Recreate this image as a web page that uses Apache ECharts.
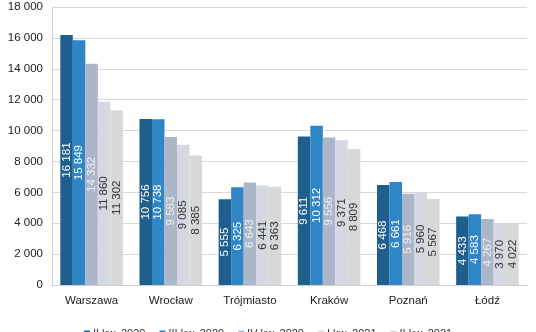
<!DOCTYPE html>
<html><head><meta charset="utf-8">
<script src="https://cdn.jsdelivr.net/npm/echarts@6/dist/echarts.min.js"></script>
<style>html,body{margin:0;padding:0;background:#fff}#c{width:536px;height:332px}</style>
</head><body><div id="c"></div>
<script>
const categories = ['Warszawa','Wrocław','Trójmiasto','Kraków','Poznań','Łódź'];
const seriesNames = ['II kw. 2020','III kw. 2020','IV kw. 2020','I kw. 2021','II kw. 2021'];
const q2_2020 = [16181, 10756, 5555, 9611, 6468, 4433];
const q3_2020 = [15849, 10738, 6325, 10312, 6661, 4583];
const q4_2020 = [14332, 9583, 6643, 9556, 5916, 4267];
const q1_2021 = [11860, 9085, 6441, 9371, 5960, 3970];
const q2_2021 = [11302, 8385, 6363, 8809, 5567, 4022];
const values = [q2_2020, q3_2020, q4_2020, q1_2021, q2_2021];
const colors = ['#1f5f8e','#2f86c6','#abb6c9','#d3d8e1','#d8d8d8'];
const labelColors = ['#ffffff','#ffffff','#eef1f6','#333333','#333333'];
const fmt = v => String(v).replace(/\B(?=(\d{3})+(?!\d))/g, ' ');
const chart = echarts.init(document.getElementById('c'), null, {renderer:'canvas'});
const font = '"Liberation Sans", Arial, sans-serif';
chart.setOption({
  animation: false,
  textStyle: {fontFamily: font},
  grid: {left: 52, right: 9, top: 7, bottom: 47},
  legend: {
    top: 323, left: 'center', itemWidth: 6, itemHeight: 6, itemGap: 14,
    icon: 'rect',
    textStyle: {fontFamily: font, fontSize: 11, color: '#333', padding: [0, 0, 0, -2]},
    data: seriesNames
  },
  xAxis: {
    type: 'category', data: categories,
    axisTick: {show: false},
    axisLine: {lineStyle: {color: '#d0d0d0'}},
    axisLabel: {color: '#222', fontSize: 11.5, margin: 10, fontFamily: font}
  },
  yAxis: {
    type: 'value', min: 0, max: 18000, interval: 2000,
    axisLine: {show: true, lineStyle: {color: '#d0d0d0'}},
    splitLine: {lineStyle: {color: '#d9d9d9'}},
    axisLabel: {color: '#222', fontSize: 11.5, margin: 9, formatter: fmt, fontFamily: font}
  },
  series: values.map((d, i) => ({
    name: seriesNames[i], type: 'bar', data: d,
    barGap: '0%', barCategoryGap: '21%',
    itemStyle: {color: colors[i]},
    label: {
      show: true, position: 'inside', rotate: 90, formatter: p => fmt(p.value),
      color: labelColors[i], fontSize: 11.5, fontFamily: font
    }
  }))
});
</script></body></html>
